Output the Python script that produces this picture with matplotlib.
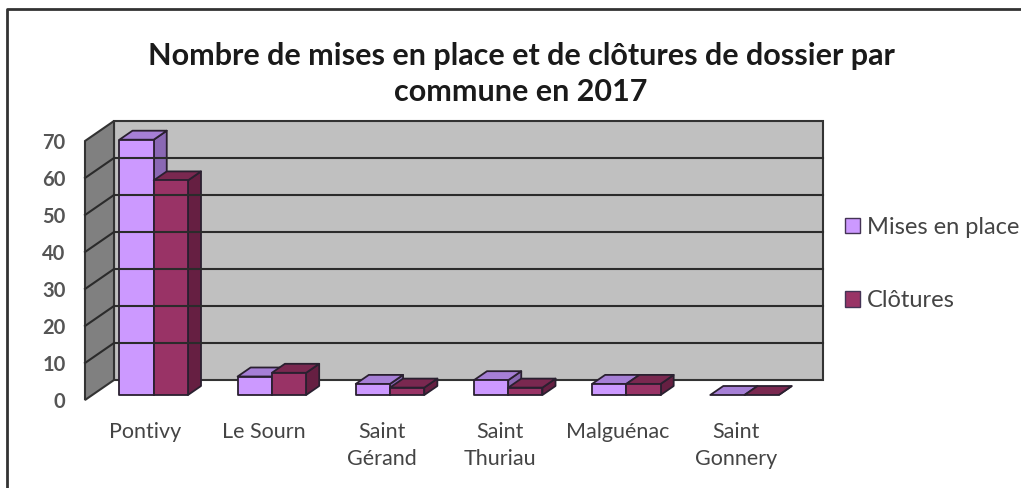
import matplotlib
matplotlib.use('Agg')
import matplotlib.pyplot as plt
from matplotlib.lines import Line2D
from matplotlib.patches import Patch, Polygon

communes = ['Pontivy', 'Le Sourn', 'Saint\nGérand', 'Saint\nThuriau', 'Malguénac', 'Saint\nGonnery']
mises = [69, 5, 3, 4, 3, 0]
clotures = [58, 6, 2, 2, 3, 0]
y_ticks = [0, 10, 20, 30, 40, 50, 60, 70]

W, H = 1021, 488
plt.rcParams['font.family'] = ['Lato', 'DejaVu Sans']

# depth of the fake 3d box, in data units per unit of depth
DX = 29 / 118.2
DY = 20 / 3.7
BAR_W = 0.29
BAR_LEFT = 0.23
D0, D1 = 0.25, 0.70
EDGE = '#2a2030'


def proj(x, y, d):
    return (x + d * DX, y + d * DY)


def box(ax, x, v, colors):
    x1 = x + BAR_W
    front, top, side = colors
    # right side, top, then front so the edges overlap like the original
    ax.add_patch(Polygon([proj(x1, 0, D0), proj(x1, 0, D1), proj(x1, v, D1), proj(x1, v, D0)],
                         fc=side, ec=EDGE, lw=1.3, clip_on=False, joinstyle='round'))
    ax.add_patch(Polygon([proj(x, v, D0), proj(x, v, D1), proj(x1, v, D1), proj(x1, v, D0)],
                         fc=top, ec=EDGE, lw=1.3, clip_on=False, joinstyle='round'))
    if v > 0:
        ax.add_patch(Polygon([proj(x, 0, D0), proj(x1, 0, D0), proj(x1, v, D0), proj(x, v, D0)],
                             fc=front, ec=EDGE, lw=1.3, clip_on=False, joinstyle='round'))


fig = plt.figure(figsize=(W / 100, H / 100), dpi=100)
ax = fig.add_axes([85 / W, 1 - 400 / H, 709 / W, 259 / H])
ax.set_xlim(0, 6)
ax.set_ylim(0, 70)
for s in ax.spines.values():
    s.set_visible(False)
ax.patch.set_visible(False)

# walls
ax.add_patch(Polygon([proj(0, 0, 1), proj(6, 0, 1), proj(6, 70, 1), proj(0, 70, 1)],
                     fc='#c0c0c0', ec='#333333', lw=1.5, clip_on=False, zorder=1))
ax.add_patch(Polygon([proj(0, 0, 0), proj(0, 0, 1), proj(0, 70, 1), proj(0, 70, 0)],
                     fc='#808080', ec='#333333', lw=1.5, clip_on=False, zorder=1))
for t in y_ticks[1:-1]:
    pts = [proj(0, t, 0), proj(0, t, 1), proj(6, t, 1)]
    ax.plot([p[0] for p in pts], [p[1] for p in pts], color='#2b2b2b', lw=1.5, clip_on=False, zorder=1.5)

for i in range(len(communes)):
    x = i + BAR_LEFT
    box(ax, x, mises[i], ('#cc99ff', '#a67fd6', '#8a68b4'))
    box(ax, x + BAR_W, clotures[i], ('#993366', '#7a2850', '#661f42'))

ax.set_yticks(y_ticks)
ax.set_xticks([i + 0.51 for i in range(len(communes))])
ax.set_xticklabels(communes, fontsize=15.5, color='#444444', linespacing=1.41, va='top')
ax.tick_params(axis='both', length=0)
ax.tick_params(axis='y', pad=14, labelsize=14.5, labelcolor='#555555')
ax.tick_params(axis='x', pad=16)
for lab in ax.get_yticklabels():
    lab.set_fontweight('bold')

fig.text(521 / W, 1 - 74 / H, 'Nombre de mises en place et de clôtures de dossier par\ncommune en 2017',
         ha='center', va='center', fontsize=22, fontweight='bold', color='#1a1a1a', linespacing=1.36)

handles = [Patch(fc='#cc99ff', ec='#443355', label='Mises en place'),
           Patch(fc='#993366', ec='#443355', label='Clôtures')]
fig.legend(handles=handles, loc='center left', bbox_to_anchor=(845 / W, 1 - 264 / H), frameon=False,
           fontsize=17, handlelength=0.62, handleheight=0.62, handletextpad=0.3, labelspacing=2.23,
           borderaxespad=0, borderpad=0, labelcolor='#444444')

# picture border, only left and top are inside the crop
fig.add_artist(Line2D([7 / W, 7 / W, 1], [0, 1 - 9 / H, 1 - 9 / H], color='#333333', lw=2))

fig.savefig('out.png', dpi=100)
